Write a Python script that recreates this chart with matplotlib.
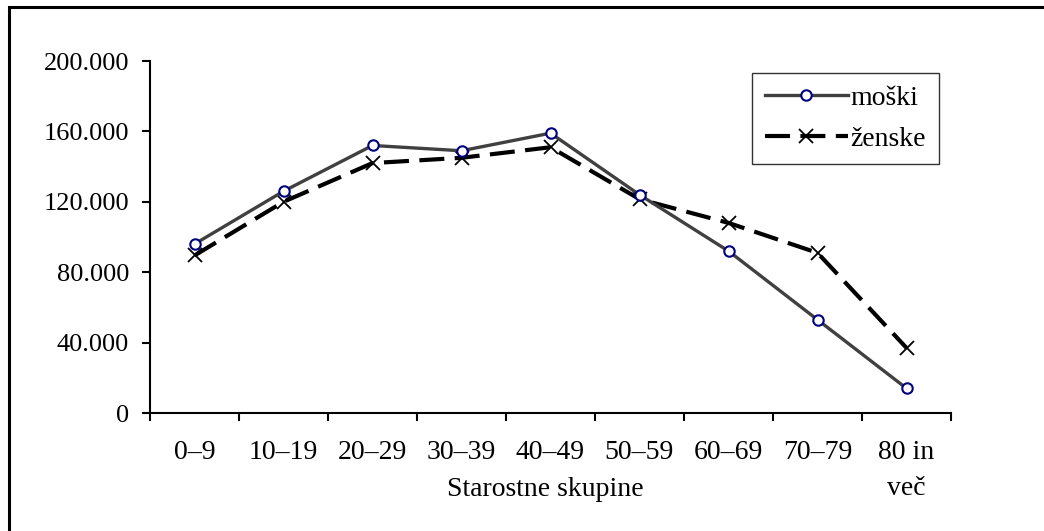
import numpy as np
import matplotlib; matplotlib.use('Agg')
import matplotlib.pyplot as plt
from matplotlib.patches import Rectangle

# age groups and population counts
groups = ['0–9', '10–19', '20–29', '30–39', '40–49', '50–59', '60–69', '70–79', '80 in\nveč']
moski  = [96000, 126000, 152000, 149000, 159000, 124000, 92000, 53000, 14000]
zenske = [89500, 120000, 142000, 145000, 151000, 121500, 108000, 91000, 37000]
yticks = [0, 40000, 80000, 120000, 160000, 200000]
ylabels = ['0', '40.000', '80.000', '120.000', '160.000', '200.000']

plt.rcParams['font.family'] = ['Liberation Serif', 'DejaVu Serif']
FS = 20

fig = plt.figure(figsize=(10.44, 5.31), dpi=100)
ax = fig.add_axes([150/1044, 118/531, 801/1044, 352/531])

x = np.arange(len(groups))
ax.plot(x, moski, color='#404040', lw=2.4, marker='o', ms=7.5,
        mfc='white', mec='#000080', mew=1.5, label='moški', zorder=3)
ax.plot(x, zenske, color='black', lw=3.0, ls=(0, (6, 2.5)), marker='x', ms=9.5,
        mec='black', mew=1.3, label='ženske', zorder=2)

ax.set_xlim(-0.5, len(groups) - 0.5)
ax.set_ylim(0, 200000)
ax.set_yticks(yticks)
ax.set_yticklabels(ylabels, fontsize=19)

# category labels centred, tick marks between categories
ax.set_xticks(np.arange(len(groups) + 1) - 0.5)
ax.set_xticklabels([])
ax.set_xticks(x, minor=True)
ax.set_xticklabels(groups, minor=True, fontsize=FS, va='top', linespacing=1.55)
ax.tick_params(axis='x', which='minor', length=0, pad=19.5)
ax.tick_params(axis='x', which='major', length=6, width=1.5, direction='out')
ax.tick_params(axis='y', length=6, width=1.5, direction='out', pad=9)

for s in ['top', 'right']:
    ax.spines[s].set_visible(False)
for s in ['left', 'bottom']:
    ax.spines[s].set_linewidth(1.5)

ax.set_xlabel('Starostne skupine', fontsize=FS, va='center')
ax.xaxis.set_label_coords(0.494, -77/352)

leg = ax.legend(loc='upper left', bbox_to_anchor=(602/801, 1 - 12/352), fontsize=FS,
                frameon=True, fancybox=False, edgecolor='black', handlelength=3.0,
                handletextpad=0.1, borderpad=0.45, labelspacing=0.55, borderaxespad=0)
leg.get_frame().set_linewidth(1.0)

# outer chart border (right and bottom fall outside the picture)
fig.patches.append(Rectangle((9/1044, -0.1), 1.2, 1 - 7/531 + 0.1,
                             transform=fig.transFigure, fill=False,
                             edgecolor='black', lw=2.2))

fig.savefig('out.png', dpi=100)
